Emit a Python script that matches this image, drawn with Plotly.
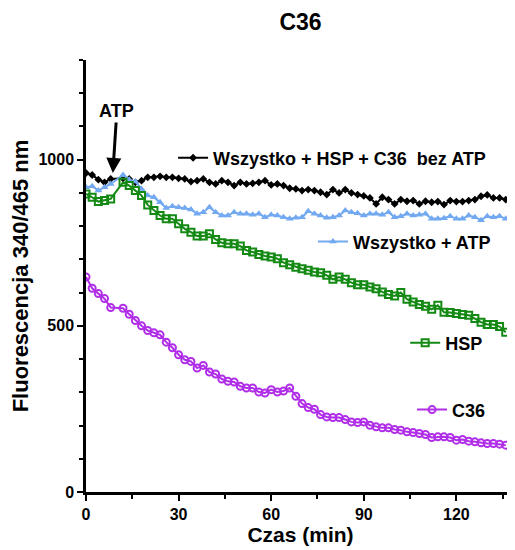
import plotly.graph_objects as go

# time points (min)
czas = [0, 2, 4, 6, 8] + list(range(12, 137, 2))

bez_atp = [960, 954, 940, 932, 942,
           944, 942, 932, 937, 947, 947, 950, 947, 947, 944, 942, 934, 937, 942, 932,
           927, 937, 932, 922, 932, 927, 929, 932, 937, 924, 927, 922, 914, 912,
           907, 910, 907, 902, 895, 910, 900, 910, 900, 895, 891, 885, 867, 887, 880,
           867, 880, 875, 877, 867, 875, 872, 874, 865, 877, 874, 874, 877, 880, 890,
           894, 885, 885, 880]

wszystko_atp = [917, 920, 907, 917, 927,
                954, 940, 934, 912, 892, 887, 872, 855, 860, 857, 855, 850, 837, 842, 857,
                842, 832, 832, 842, 837, 837, 834, 837, 827, 834, 832, 827, 822, 825,
                827, 845, 837, 832, 825, 827, 832, 847, 842, 839, 832, 837, 837, 834, 842,
                827, 830, 837, 832, 834, 837, 822, 822, 824, 830, 822, 822, 832, 827, 818,
                830, 827, 830, 822]

hsp = [897, 887, 874, 877, 882,
       932, 922, 907, 892, 864, 847, 832, 822, 822, 807, 792, 782, 770, 770, 777,
       760, 750, 747, 747, 740, 727, 722, 715, 710, 707, 702, 690, 684, 676,
       672, 667, 662, 660, 652, 640, 647, 640, 630, 624, 624, 617, 612, 602, 594,
       590, 600, 580, 572, 564, 559, 550, 562, 541, 540, 537, 534, 532, 522, 511,
       504, 504, 498, 481]

c36 = [647, 613, 597, 582, 555,
       553, 535, 516, 500, 486, 479, 473, 451, 434, 413, 398, 393, 373, 381, 361,
       355, 340, 333, 331, 318, 313, 313, 301, 298, 308, 301, 304, 313, 288,
       266, 254, 249, 233, 226, 224, 224, 218, 211, 209, 211, 201, 196, 193, 193,
       188, 186, 181, 179, 176, 173, 164, 166, 166, 164, 156, 158, 153, 151, 148,
       146, 146, 144, 141]

FONT = "Arial, Liberation Sans, sans-serif"

fig = go.Figure()
fig.add_trace(go.Scatter(x=czas, y=bez_atp, mode="lines+markers",
                         name="<b>Wszystko + HSP + C36  bez ATP</b>", legend="legend",
                         line=dict(color="#000000", width=2),
                         marker=dict(symbol="diamond", size=6, color="#000000")))
fig.add_trace(go.Scatter(x=czas, y=wszystko_atp, mode="lines+markers",
                         name="<b>Wszystko + ATP</b>", legend="legend2",
                         line=dict(color="#72a9f0", width=2),
                         marker=dict(symbol="triangle-up", size=7, color="#72a9f0")))
fig.add_trace(go.Scatter(x=czas, y=hsp, mode="lines+markers",
                         name="<b>HSP</b>", legend="legend3",
                         line=dict(color="#148a14", width=2),
                         marker=dict(symbol="square-open", size=7, color="#148a14",
                                     line=dict(width=2))))
fig.add_trace(go.Scatter(x=czas, y=c36, mode="lines+markers",
                         name="<b>C36</b>", legend="legend4",
                         line=dict(color="#b02ee8", width=2),
                         marker=dict(symbol="circle-open", size=7, color="#b02ee8",
                                     line=dict(width=2))))

leg_common = dict(font=dict(family=FONT, size=18, color="#000"),
                  bgcolor="rgba(0,0,0,0)", borderwidth=0,
                  xanchor="left", yanchor="middle", itemclick=False)

TICKFONT = dict(family=FONT, size=16, color="#000", weight="bold")

# page body has an 8px margin, so the figure is 8px smaller and margins shifted
fig.update_layout(
    width=507, height=542,
    margin=dict(l=78, r=0, t=52, b=58),
    plot_bgcolor="white", paper_bgcolor="white",
    font=dict(family=FONT, color="#000"),
    title=dict(text="<b>C36</b>", xref="paper", x=0.5, xanchor="center",
               y=0.974, yanchor="middle",
               font=dict(family=FONT, size=23, color="#000")),
    showlegend=True,
    legend=dict(x=0.203, y=0.773, **leg_common),
    legend2=dict(x=0.529, y=0.579, **leg_common),
    legend3=dict(x=0.744, y=0.345, **leg_common),
    legend4=dict(x=0.760, y=0.190, **leg_common),
    xaxis=dict(range=[0, 139], tickvals=[0, 30, 60, 90, 120], automargin=False,
               ticks="outside", ticklen=6, tickwidth=2, tickcolor="#000",
               minor=dict(dtick=15, tick0=0, ticks="outside", ticklen=4, tickwidth=2, tickcolor="#000"),
               showline=True, linecolor="#000", linewidth=2.5, showgrid=False, zeroline=False,
               tickfont=TICKFONT,
               title=dict(text="<b>Czas (min)</b>", standoff=6,
                          font=dict(family=FONT, size=21, color="#000"))),
    yaxis=dict(range=[0, 1300], tickvals=[0, 500, 1000], automargin=False,
               ticks="outside", ticklen=6, tickwidth=2, tickcolor="#000",
               minor=dict(dtick=100, tick0=0, ticks="outside", ticklen=4, tickwidth=2, tickcolor="#000"),
               showline=True, linecolor="#000", linewidth=2.5, showgrid=False, zeroline=False,
               tickfont=TICKFONT,
               title=dict(text="<b>Fluorescencja 340/465 nm</b>", standoff=8,
                          font=dict(family=FONT, size=22, color="#000"))),
)

fig.add_annotation(x=8.7, y=960, xref="x", yref="y", text="<b>ATP</b>",
                   showarrow=True, arrowhead=2, arrowsize=1, arrowwidth=3,
                   arrowcolor="#000", ax=4, ay=-62,
                   font=dict(family=FONT, size=18, color="#000"))

fig.write_html("out.html")
